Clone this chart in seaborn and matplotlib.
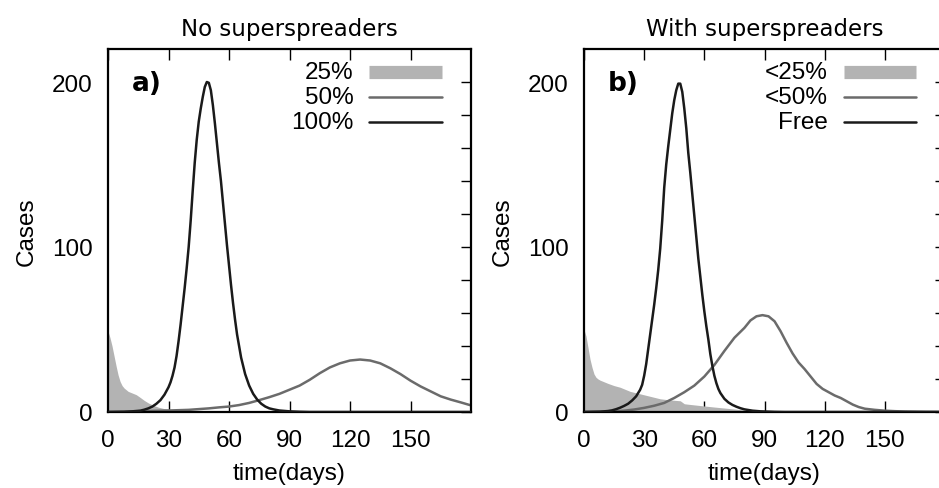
import numpy as np
import pandas as pd
import matplotlib
matplotlib.use("Agg")
import matplotlib.pyplot as plt
import seaborn as sns

# ---- data ----
# panel a) no superspreaders
t_fill_a = [0, 1, 2, 3, 4, 5, 6, 7, 8, 10, 12, 14, 16, 18, 20, 22, 25, 28, 32, 36, 40, 50, 60, 80, 100, 180]
v_fill_a = [49, 45, 40, 34, 28, 22.5, 18.5, 16, 14.5, 12.5, 11.5, 10.5, 8.8, 7, 5.5, 4.3, 2.9, 2, 1.4, 1, 0.7, 0.4, 0.2, 0.1, 0, 0]

t_50_a = [0, 10, 20, 30, 40, 50, 55, 60, 65, 70, 75, 80, 85, 90, 95, 100, 105, 110, 115, 120,
          125, 130, 135, 140, 145, 150, 155, 160, 165, 170, 175, 180]
v_50_a = [0, 0.3, 0.6, 0.9, 1.3, 2.2, 2.8, 3.3, 4.2, 5.5, 7.2, 9, 11, 13.5, 16, 19.5, 23.5, 27, 29.5, 31.2,
          31.8, 31.2, 29.5, 26.5, 23, 19, 15.5, 12.5, 9.5, 7.5, 5.8, 4]

t_100_a = [0, 8, 12, 16, 18, 20, 22, 24, 26, 28, 30, 31, 32, 33, 34, 35, 36, 37, 38, 39, 40, 41, 42, 43,
           44, 45, 46, 47, 48, 49, 50, 51, 52, 53, 54, 55, 56, 57, 58, 59, 60, 61, 62, 63, 64, 65, 66,
           67, 68, 69, 70, 72, 74, 76, 78, 80, 82, 85, 90, 95, 100, 180]
v_100_a = [0, 0.1, 0.4, 0.8, 1.4, 2.2, 3.3, 5, 7.2, 10.5, 15, 18, 22, 27, 34, 43, 53, 64, 75, 87, 100, 116, 134, 151,
           165, 176, 184, 191, 197, 200, 199.5, 195, 186, 175, 163, 151, 140, 127, 114, 101, 89, 77, 66, 56, 47, 40, 33,
           28, 23, 19.5, 16, 11, 7.5, 5, 3.3, 2.2, 1.6, 0.9, 0.4, 0.15, 0, 0]

# panel b) with superspreaders
t_fill_b = [0, 1, 2, 3, 4, 5, 6, 7, 8, 10, 12, 15, 18, 20, 23, 28, 33, 38, 43, 46, 48, 50, 52, 55,
            58, 65, 70, 75, 80, 85, 90, 100, 180]
v_fill_b = [50, 46, 39, 32, 27, 23, 21, 20, 19.3, 18.3, 17.3, 16, 15, 14, 12.5, 11, 9.5, 8, 7.3, 7, 6.8, 5, 4.7, 4.3,
            3.9, 3, 2.4, 1.8, 1.2, 0.8, 0.3, 0, 0]

t_50_b = [0, 10, 15, 20, 25, 30, 35, 40, 45, 50, 55, 60, 65, 70, 75, 80, 83, 86, 89, 92, 95, 98, 101, 104,
          107, 110, 113, 116, 119, 122, 125, 128, 131, 134, 137, 140, 145, 150, 155, 160, 170, 180]
v_50_b = [0, 0.2, 0.4, 0.8, 1.5, 2.5, 3.8, 5.5, 8.5, 12, 16, 21.5, 28.5, 37, 45, 51, 55.5, 58, 58.7, 58, 55, 49, 42, 35.5,
          30, 26, 21.5, 17, 14, 12, 10, 8.5, 6.5, 4.5, 3, 2, 1.3, 0.8, 0.5, 0.3, 0.1, 0]

t_free_b = [0, 8, 12, 14, 16, 18, 20, 22, 24, 26, 28, 29, 30, 31, 32, 33, 34, 35, 36, 37, 38, 39, 40, 41,
            42, 43, 44, 45, 46, 47, 48, 49, 50, 51, 52, 53, 54, 55, 56, 57, 58, 59, 60, 61, 62, 63, 64,
            65, 66, 67, 68, 70, 72, 74, 76, 78, 80, 84, 88, 95, 100, 180]
v_free_b = [0, 0.2, 0.6, 1, 1.7, 2.6, 3.7, 5, 7, 9.5, 13.5, 16.5, 22, 29, 38, 47, 56, 65, 75, 86, 99, 116, 136, 150,
            161, 171, 181, 189, 195, 199, 199, 194, 184, 172, 157, 145, 132, 119, 106, 93, 82, 71, 61, 52, 44, 35, 28,
            22, 17.5, 14, 11.5, 8, 5.8, 4.3, 3.2, 2.3, 1.6, 0.8, 0.4, 0.1, 0, 0]

titles = ["No superspreaders", "With superspreaders"]
panel_tags = ["a)", "b)"]
legend_labels = [["25%", "50%", "100%"], ["<25%", "<50%", "Free"]]

c_fill = "#b3b3b3"
c_mid = "#6b6b6b"
c_dark = "#1a1a1a"

sns.set_theme(style="ticks")
plt.rcParams["font.family"] = ["Liberation Sans", "DejaVu Sans"]
plt.rcParams["text.color"] = "black"
plt.rcParams["axes.labelcolor"] = "black"
plt.rcParams["xtick.color"] = "black"
plt.rcParams["ytick.color"] = "black"

fig = plt.figure(figsize=(9.39, 4.89), dpi=100)
W, H = 939, 489
ax_a = fig.add_axes([108 / W, 76 / H, 363 / W, 363 / H])
ax_b = fig.add_axes([584 / W, 76 / H, 361 / W, 363 / H])

panels = [
    (ax_a, t_fill_a, v_fill_a, t_50_a, v_50_a, t_100_a, v_100_a),
    (ax_b, t_fill_b, v_fill_b, t_50_b, v_50_b, t_free_b, v_free_b),
]

for i, (ax, tf, vf, tm, vm, td, vd) in enumerate(panels):
    ax.fill_between(tf, 0, vf, color=c_fill, lw=0, zorder=1)
    sns.lineplot(x=tm, y=vm, ax=ax, color=c_mid, lw=1.8, zorder=2)
    sns.lineplot(x=td, y=vd, ax=ax, color=c_dark, lw=1.8, zorder=3)

    ax.set_xlim(0, 180)
    ax.set_ylim(0, 220)
    ax.set_xticks([0, 30, 60, 90, 120, 150])
    ax.set_yticks([0, 100, 200])
    ax.set_yticks(np.arange(20, 220, 20), minor=True)
    ax.tick_params(axis="x", which="major", direction="in", length=8, width=1,
                   top=True, bottom=True, labelsize=17.5, pad=12, color="black")
    ax.tick_params(axis="y", which="major", direction="in", length=7, width=1,
                   left=False, right=True, labelleft=True, labelsize=17.5, pad=11, color="black")
    ax.tick_params(axis="y", which="minor", direction="in", length=7, width=1,
                   left=False, right=True, color="black")
    for s in ax.spines.values():
        s.set_visible(True)
        s.set_linewidth(1.6)
        s.set_color("black")

    ax.set_xlabel("time(days)", fontsize=17.5, labelpad=8)
    ax.set_ylabel("Cases", fontsize=17.5, labelpad=10)
    ax.set_title(titles[i], fontsize=16.5, family="DejaVu Sans", pad=10)
    ax.text(0.065, 0.905, panel_tags[i], transform=ax.transAxes, fontsize=19,
            family="DejaVu Sans", fontweight="bold", ha="left", va="center")

    # legend, right-aligned labels with sample to the right
    rows = [0.936, 0.867, 0.798]
    for j, lab in enumerate(legend_labels[i]):
        ax.text(0.676, rows[j], lab, transform=ax.transAxes, fontsize=17.5,
                ha="right", va="center")
    ax.plot([0.72, 0.92], [rows[0], rows[0]], transform=ax.transAxes,
            color=c_fill, lw=9.5, solid_capstyle="butt")
    ax.plot([0.72, 0.92], [rows[1], rows[1]], transform=ax.transAxes,
            color=c_mid, lw=1.8)
    ax.plot([0.72, 0.92], [rows[2], rows[2]], transform=ax.transAxes,
            color=c_dark, lw=1.8)

fig.savefig("out.png", dpi=100)
